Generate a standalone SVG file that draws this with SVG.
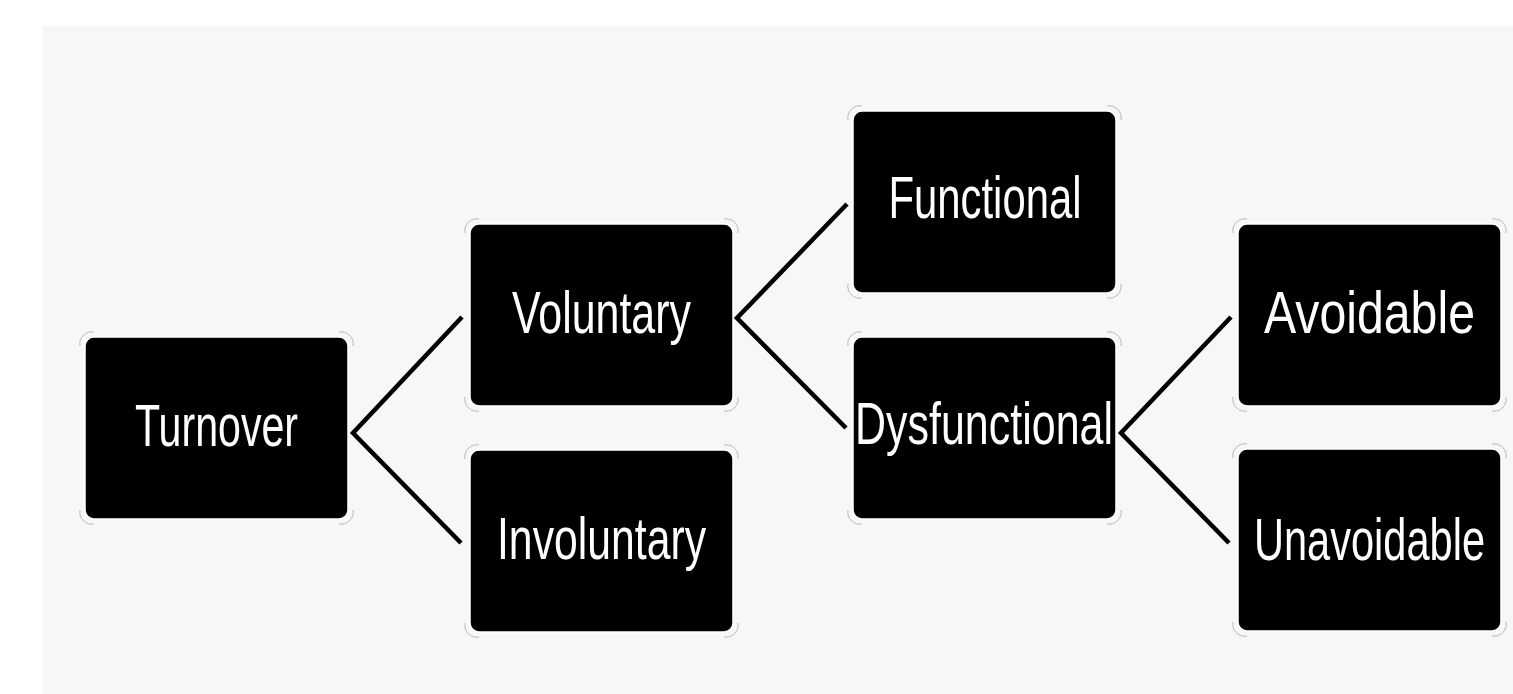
<svg xmlns="http://www.w3.org/2000/svg" xmlns:xlink="http://www.w3.org/1999/xlink" width="1513" height="694" viewBox="0 0 1513 694">
<style>
.box{fill:#000;stroke:#fff;stroke-width:1.5}
.halo{fill:none;stroke:#b8b8b8;stroke-width:1}
.lbl{fill:#fff;font-family:"Liberation Sans",Arial,sans-serif;font-size:60px;text-anchor:middle}
.conn{fill:none;stroke:#000;stroke-width:4.5;stroke-linejoin:miter;stroke-linecap:butt}
</style>
<defs>
<g id="node">
<path class="halo" d="M-5,9 A12,12 0 0 1 9,-5 M254,-5 A12,12 0 0 1 268,9 M268,173 A12,12 0 0 1 254,187 M9,187 A12,12 0 0 1 -5,173"/>
<rect class="box" x="0" y="0" width="263" height="182" rx="9" ry="9"/>
</g>
</defs>
<rect x="0" y="0" width="1513" height="694" fill="#fff"/>
<rect x="43" y="26" width="1470" height="668" fill="#f7f7f7"/>
<g id="connectors">
<polyline class="conn" points="462,317 353,433 461,543"/>
<polyline class="conn" points="847,204 737,318 846,428"/>
<polyline class="conn" points="1231,317 1121,433 1229,543"/>
</g>
<g id="n-turnover"><use xlink:href="#node" x="85" y="337"/><text class="lbl" x="216.5" y="446" textLength="163" lengthAdjust="spacingAndGlyphs">Turnover</text></g>
<g id="n-voluntary"><use xlink:href="#node" x="470" y="224"/><text class="lbl" x="601.5" y="333" textLength="179" lengthAdjust="spacingAndGlyphs">Voluntary</text></g>
<g id="n-involuntary"><use xlink:href="#node" x="470" y="450"/><text class="lbl" x="601.5" y="559" textLength="209" lengthAdjust="spacingAndGlyphs">Involuntary</text></g>
<g id="n-functional"><use xlink:href="#node" x="853" y="111"/><text class="lbl" x="985" y="218" textLength="193" lengthAdjust="spacingAndGlyphs">Functional</text></g>
<g id="n-dysfunctional"><use xlink:href="#node" x="853" y="337"/><text class="lbl" x="984" y="444" textLength="258" lengthAdjust="spacingAndGlyphs">Dysfunctional</text></g>
<g id="n-avoidable"><use xlink:href="#node" x="1238" y="224"/><text class="lbl" x="1369.5" y="333" textLength="211" lengthAdjust="spacingAndGlyphs">Avoidable</text></g>
<g id="n-unavoidable"><use xlink:href="#node" x="1238" y="449"/><text class="lbl" x="1369.5" y="560" textLength="231" lengthAdjust="spacingAndGlyphs">Unavoidable</text></g>
</svg>
